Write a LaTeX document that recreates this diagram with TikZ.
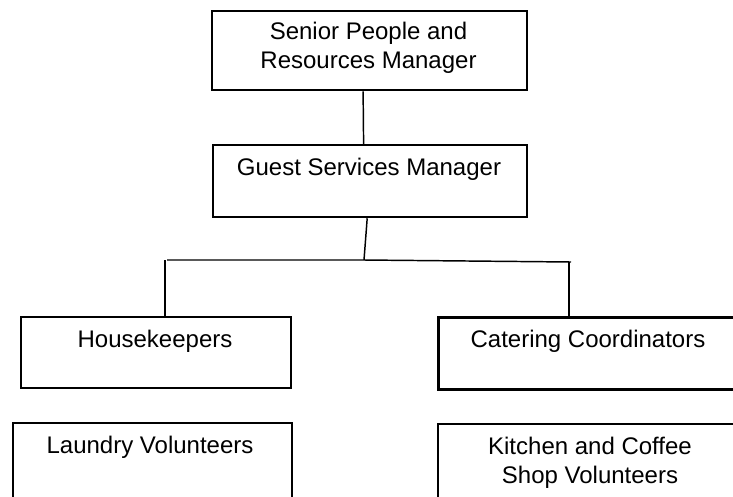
\documentclass[tikz,border=0pt]{standalone}
\usepackage{fontspec}
\setmainfont{Liberation Sans}
\begin{document}
\begin{tikzpicture}[x=0.75bp,y=-0.75bp,
  box/.style={draw=black, line width=1.7bp, rectangle, inner sep=0pt, anchor=north west},
  thinbox/.style={box, line width=1.3bp},
  lbl/.style={font=\fontsize{18bp}{21.75bp}\selectfont, align=center, inner sep=0pt},
  conn/.style={draw=black, line width=1.1bp}]
\useasboundingbox (0,0) rectangle (733,497);
\clip (0,0) rectangle (733,497);
% boxes
\node[box, minimum width=236.25bp, minimum height=59.25bp] (top) at (211,10) {};
\node[lbl] (toplbl) at (368.5,48) {Senior People and\\Resources Manager};
\node[box, minimum width=235.5bp, minimum height=54bp] (guest) at (212,144) {};
\node[lbl] (guestlbl) at (369,169) {Guest Services Manager};
\node[box, minimum width=202.5bp, minimum height=53.25bp] (hk) at (20,316) {};
\node[lbl] (hklbl) at (155,341) {Housekeepers};
\node[box, line width=2bp, minimum width=240bp, minimum height=54bp] (cc) at (437,316) {};
\node[lbl] (cclbl) at (588,341) {Catering Coordinators};
\node[thinbox, minimum width=209.25bp, minimum height=75bp] (lv) at (12,422) {};
\node[lbl] (lvlbl) at (150,447) {Laundry Volunteers};
\node[thinbox, minimum width=240bp, minimum height=75bp] (kv) at (437,423) {};
\node[lbl] (kvlbl) at (590,463) {Kitchen and Coffee\\Shop Volunteers};
% connectors
\coordinate (j) at (364,260);
\coordinate (jl) at (165,260);
\coordinate (jr) at (569,262);
\draw[conn] ([xshift=-4.9bp]top.south) -- ([xshift=-4.9bp]guest.north);
\draw[conn] ([xshift=-2.2bp]guest.south) -- (j);
\draw[conn] ([xshift=1.5bp]jl) -- (j) -- ([xshift=1.5bp]jr);
\draw[conn] (jl) -- (jl |- hk.north);
\draw[conn] (jr) -- (jr |- cc.north);
\end{tikzpicture}
\end{document}
